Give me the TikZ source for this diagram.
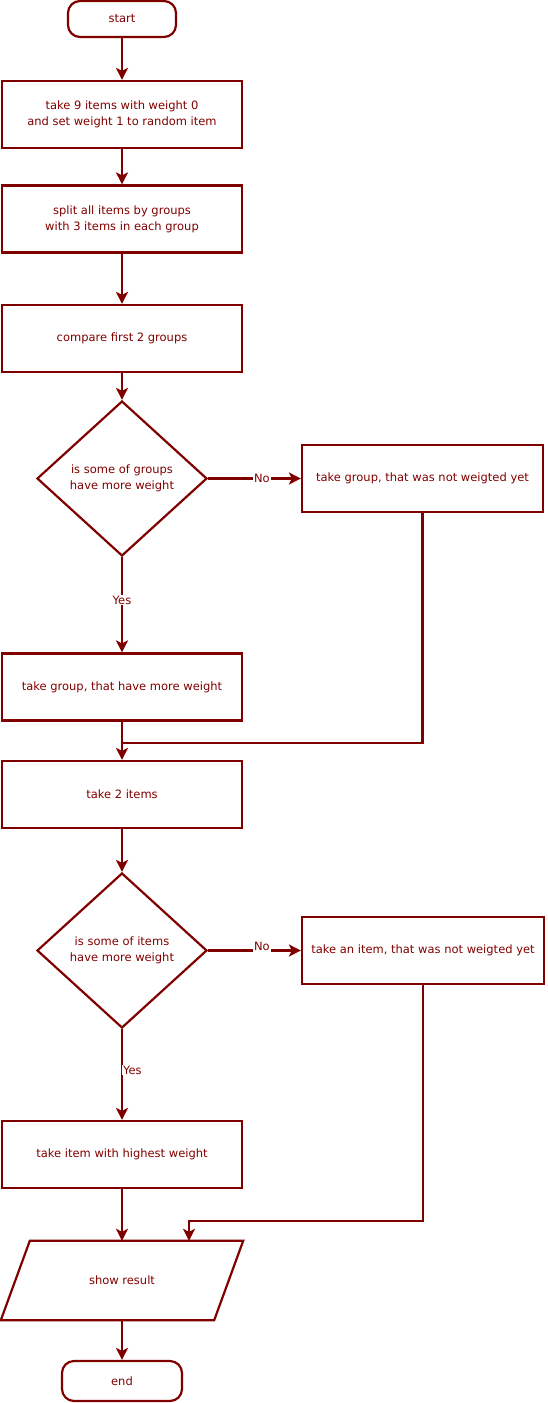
\documentclass[tikz,border=0pt]{standalone}
\usepackage{fontspec}
\setmainfont{DejaVu Sans}
\usepackage{tikz}
\usetikzlibrary{arrows.meta, shapes.geometric, positioning}
\definecolor{maroon}{HTML}{800000}

\begin{document}
\begin{tikzpicture}[x=1pt, y=-1pt,
  every node/.style={text=maroon, font=\fontsize{11.5}{16}\selectfont},
  box/.style={draw=maroon, line width=2.2pt, rectangle, minimum width=240pt,
    minimum height=67pt, inner sep=0pt, align=center},
  term/.style={draw=maroon, line width=2.2pt, rectangle, rounded corners=12pt,
    minimum width=108pt, minimum height=36pt, inner sep=0pt},
  cond/.style={draw=maroon, line width=2.2pt, diamond, minimum width=170pt,
    minimum height=155pt, inner sep=0pt, align=center},
  io/.style={rectangle, minimum width=242pt, minimum height=79pt, inner sep=0pt},
  wire/.style={draw=maroon, line width=2.2pt},
  link/.style={wire, -{Stealth[length=12pt, width=12pt, inset=3pt]}},
  lbl/.style={fill=white, inner sep=1pt}]
\useasboundingbox (0,0) rectangle (547,1403);

\node[term] (start) at (122,19) {start};
\node[box] (take) at (122,114.5) {take 9 items with weight 0\\and set weight 1 to random item};
\node[box] (split) at (122,219) {split all items by groups\\with 3 items in each group};
\node[box] (compare) at (122,338.5) {compare first 2 groups};
\node[cond] (heavygroup) at (122,478.5) {is some of groups\\have more weight};
\node[box, minimum width=241pt] (othergroup) at (422.5,478.5) {take group, that was not weigted yet};
\node[box] (takegroup) at (122,687) {take group, that have more weight};
\node[box] (twoitems) at (122,794.5) {take 2 items};
\node[cond] (heavyitem) at (122,950.5) {is some of items\\have more weight};
\node[box, minimum width=242pt] (otheritem) at (423,950.5) {take an item, that was not weigted yet};
\node[box] (highest) at (122,1154.5) {take item with highest weight};
\node[io] (result) at (122,1280.5) {show result};
\node[term, minimum width=120pt, minimum height=40pt] (end) at (122,1381) {end};
\draw[wire] ([xshift=29pt]result.north west) -- (result.north east)
  -- ([xshift=-29pt]result.south east) -- (result.south west) -- cycle;

\coordinate (join1) at (122,743);
\coordinate (join2) at (189,1221);

\draw[link] (start) -- (take);
\draw[link] (take) -- (split);
\draw[link] (split) -- (compare);
\draw[link] (compare) -- (heavygroup);
\draw[link] (heavygroup) -- node[lbl, pos=.58] {No} (othergroup);
\draw[link] (heavygroup) -- node[lbl, pos=.45] {Yes} (takegroup);
\draw[link] (takegroup) -- (twoitems);
\draw[wire] (othergroup.south) |- (join1);
\draw[link] (twoitems) -- (heavyitem);
\draw[link] (heavyitem) -- node[lbl, pos=.58, yshift=4pt] {No} (otheritem);
\draw[link] (heavyitem) -- node[lbl, pos=.45, anchor=west, xshift=-1pt] {Yes} (highest);
\draw[link] (highest) -- (result);
\draw[link] (otheritem.south) |- (join2) -- (join2 |- result.north);
\draw[link] (result) -- (end);
\end{tikzpicture}
\end{document}
